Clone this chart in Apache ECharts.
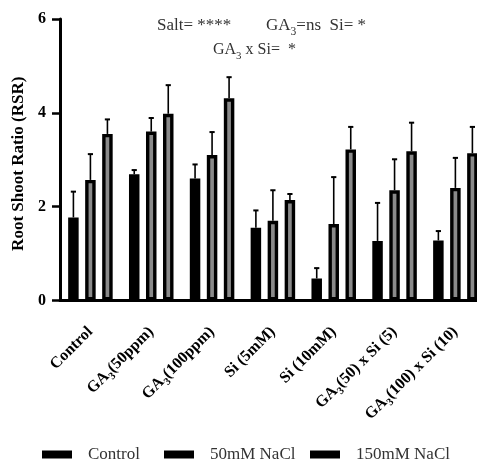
<!DOCTYPE html>
<html>
<head>
<meta charset="utf-8">
<script src="https://cdn.jsdelivr.net/npm/echarts@6/dist/echarts.min.js"></script>
<style>
  html, body { margin: 0; padding: 0; background: #fff; }
  #chart { width: 477px; height: 461px; }
</style>
</head>
<body>
<div id="chart"></div>
<script>
// Treatments on the x axis
const categories = ['Control', 'GA3(50ppm)', 'GA3(100ppm)', 'Si (5mM)', 'Si (10mM)', 'GA3(50) x Si (5)', 'GA3(100) x Si (10)'];
// Salinity levels (one bar per level in each group)
const seriesNames = ['Control', '50mM NaCl', '150mM NaCl'];

// Mean root/shoot ratio per treatment
const controlMeans = [1.77, 2.69, 2.60, 1.55, 0.47, 1.27, 1.28];
const nacl50Means  = [2.57, 3.60, 3.10, 1.70, 1.63, 2.35, 2.40];
const nacl150Means = [3.55, 3.98, 4.31, 2.14, 3.22, 3.18, 3.14];

// Standard errors (upper bars only)
const controlErrs = [0.55, 0.09, 0.30, 0.37, 0.22, 0.81, 0.20];
const nacl50Errs  = [0.55, 0.29, 0.49, 0.65, 1.00, 0.66, 0.64];
const nacl150Errs = [0.31, 0.61, 0.45, 0.13, 0.48, 0.61, 0.56];

// Y axis scale
const yMin = 0, yMax = 6, yStep = 2;

const FONT = '"Liberation Serif", "Times New Roman", serif';
const BAR_W = 10.5;
const BAR_GAP = 0.62;               // gap between bars, as a fraction of bar width
const BAR_STEP = BAR_W * (1 + BAR_GAP);

const means = [controlMeans, nacl50Means, nacl150Means];
const errs = [controlErrs, nacl50Errs, nacl150Errs];
const fills = ['#000', '#8a8a8a', '#8a8a8a'];

// "GA3" written with a subscript 3
function richLabel(text, style) {
  const parts = text.split('GA3');
  let out = '';
  parts.forEach((p, i) => {
    if (i > 0) out += '{' + style + '|GA}{' + style + 's|3}';
    if (p) out += '{' + style + '|' + p + '}';
  });
  return out;
}

const barSeries = seriesNames.map((name, i) => ({
  type: 'bar',
  name: name,
  data: means[i],
  barWidth: BAR_W,
  barGap: Math.round(BAR_GAP * 100) + '%',
  itemStyle: { color: fills[i], borderColor: '#000', borderWidth: 3.4 },
  emphasis: { disabled: true },
  z: 2
}));

const errorSeries = seriesNames.map((name, i) => ({
  type: 'custom',
  name: name + ' SE',
  data: means[i].map((m, k) => [k, m, m + errs[i][k]]),
  z: 3,
  silent: true,
  renderItem: function (params, api) {
    const base = api.coord([api.value(0), api.value(1)]);
    const hi = api.coord([api.value(0), api.value(2)]);
    const x = base[0] + (i - 1) * BAR_STEP;
    return {
      type: 'group',
      children: [
        { type: 'line', shape: { x1: x, y1: base[1], x2: x, y2: hi[1] }, style: { stroke: '#000', lineWidth: 1.6 } },
        { type: 'line', shape: { x1: x - 2.6, y1: hi[1], x2: x + 2.6, y2: hi[1] }, style: { stroke: '#000', lineWidth: 2 } }
      ]
    };
  }
}));

const chart = echarts.init(document.getElementById('chart'), null, { renderer: 'canvas' });

function statRich(size) {
  return {
    t: { fontFamily: FONT, fontSize: size, fontWeight: 'normal', color: '#333', lineHeight: 20 },
    ts: { fontFamily: FONT, fontSize: size * 0.68, fontWeight: 'normal', color: '#333', lineHeight: 20, verticalAlign: 'bottom', padding: [0, 0, -2, 0] }
  };
}

// One legend block per salinity level
const legendLefts = [37, 159, 305];
const legends = seriesNames.map((n, i) => ({
  left: legendLefts[i],
  top: 441,
  icon: 'rect',
  itemWidth: 30,
  itemHeight: 8,
  data: [{ name: n, itemStyle: { color: '#000', borderWidth: 0 } }],
  textStyle: { fontFamily: FONT, fontSize: 17, color: '#333', padding: [0, 0, 0, 11] },
  selectedMode: false
}));

chart.setOption({
  animation: false,
  backgroundColor: '#fff',
  title: [
    { text: '{t|Salt= ****}', left: 152, top: 11, textStyle: { fontWeight: 'normal', rich: statRich(17) } },
    { text: richLabel('GA3=ns  Si= *', 't'), left: 261, top: 11, textStyle: { fontWeight: 'normal', rich: statRich(17) } },
    { text: richLabel('GA3 x Si=  *', 't'), left: 208, top: 35, textStyle: { fontWeight: 'normal', rich: statRich(16) } }
  ],
  legend: legends,
  grid: { left: 60, width: 425.8, top: 19, bottom: 160.5, containLabel: false, outerBoundsMode: 'none' },
  xAxis: {
    type: 'category',
    data: categories,
    axisLine: { lineStyle: { color: '#000', width: 3 } },
    axisTick: { alignWithLabel: true, length: 10, lineStyle: { color: '#000', width: 2.5 } },
    axisLabel: {
      rotate: 45,
      margin: 29,
      interval: 0,
      formatter: v => richLabel(v, 'b'),
      rich: {
        b: { fontFamily: FONT, fontSize: 16, fontWeight: 'bold', color: '#000', lineHeight: 18 },
        bs: { fontFamily: FONT, fontSize: 10.5, fontWeight: 'bold', color: '#000', lineHeight: 18, verticalAlign: 'bottom', padding: [0, 0, -2, 0] }
      }
    }
  },
  yAxis: {
    type: 'value',
    min: yMin,
    max: yMax,
    interval: yStep,
    name: 'Root Shoot Ratio (RSR)',
    nameLocation: 'middle',
    nameGap: 30,
    nameTextStyle: { fontFamily: FONT, fontSize: 17, fontWeight: 'bold', color: '#000', padding: [0, 8, 0, 0] },
    axisLine: { show: true, lineStyle: { color: '#000', width: 3 } },
    axisTick: { show: true, length: 8, lineStyle: { color: '#000', width: 2.5 } },
    axisLabel: { fontFamily: FONT, fontSize: 16, fontWeight: 'bold', color: '#000', margin: 14 },
    splitLine: { show: false }
  },
  series: barSeries.concat(errorSeries)
});
</script>
</body>
</html>
